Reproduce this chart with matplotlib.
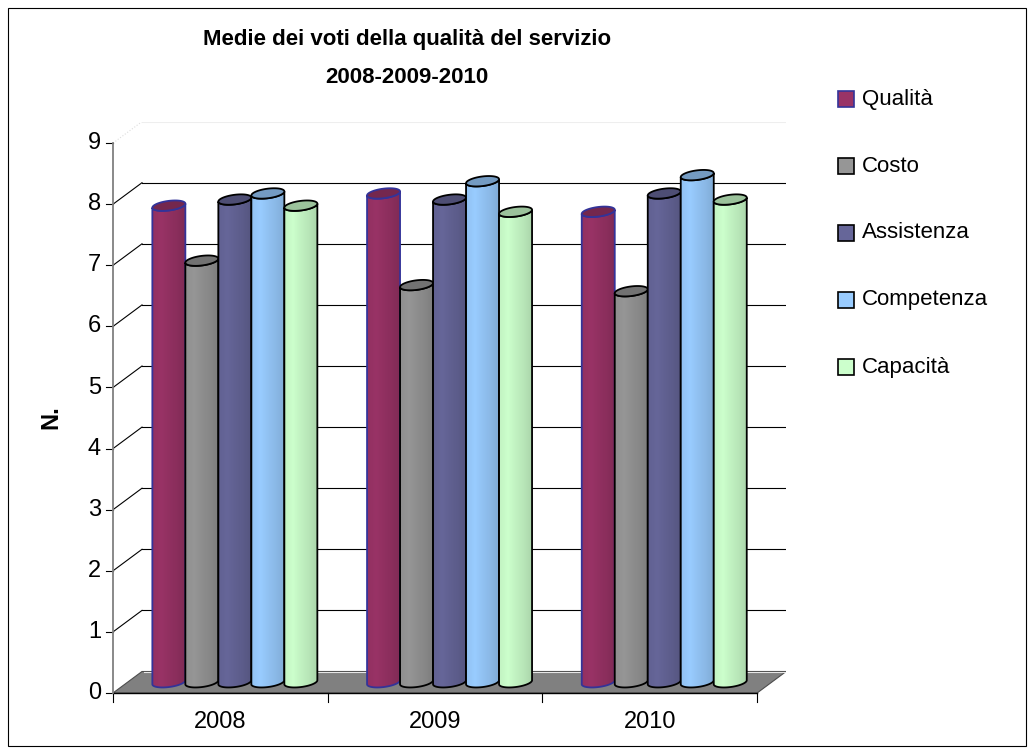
import numpy as np
import matplotlib
matplotlib.use("Agg")
import matplotlib.pyplot as plt
from matplotlib.patches import Polygon, Rectangle
from matplotlib.colors import to_rgb

plt.rcParams['font.family'] = ['Liberation Sans', 'DejaVu Sans']

# ---- data -------------------------------------------------------------
years = ['2008', '2009', '2010']
series_names = ['Qualità', 'Costo', 'Assistenza', 'Competenza', 'Capacità']
qualita = [7.8, 8.0, 7.7]
costo = [6.9, 6.5, 6.4]
assistenza = [7.9, 7.9, 8.0]
competenza = [8.0, 8.2, 8.3]
capacita = [7.8, 7.7, 7.9]
y_ticks = list(range(0, 10))

series_values = [qualita, costo, assistenza, competenza, capacita]
face_colors = ['#993366', '#969696', '#666699', '#99CCFF', '#CCFFCC']
edge_colors = ['#333399', 'black', 'black', 'black', 'black']

# ---- figure geometry (pixels) ----------------------------------------
W, H = 1034, 754
PX_CAT, PX_UNIT = 214.7, 61.1          # pixels per category / per value unit
DX = 29 / PX_CAT                       # depth shift in category units
DY = 21.5 / PX_UNIT                    # depth shift in value units
BW = 33 / PX_CAT                       # cylinder diameter
B_ELL = 4.8 / PX_UNIT                  # half-height of cylinder caps
SHEAR = 2.0 / PX_UNIT                  # cap tilt

fig = plt.figure(figsize=(W / 100, H / 100), dpi=100)
fig.patch.set_facecolor('white')

def fx(px):
    return px / W

def fy(py):
    return 1 - py / H

ax = fig.add_axes([fx(113), fy(693), (3 + DX) * PX_CAT / W, (9 + DY) * PX_UNIT / H])
ax.axis('off')

# ---- walls ------------------------------------------------------------
for k in y_ticks[1:-1]:
    ax.plot([DX, 3 + DX], [k + DY, k + DY], color='black', lw=0.8, zorder=1)
    ax.plot([0, DX], [k, k + DY], color='black', lw=0.8, zorder=1)
top_k = y_ticks[-1]
ax.plot([DX, 3 + DX], [top_k + DY, top_k + DY], color='#eeeeee', lw=0.8, zorder=1)
ax.plot([0, DX], [top_k, top_k + DY], color='#dddddd', lw=0.8, ls=':', zorder=1)

# floor
floor = Polygon([(0, 0), (3, 0), (3 + DX, DY), (DX, DY)], closed=True,
                facecolor='#808080', edgecolor='#4d4d4d', lw=0.8, zorder=2)
ax.add_patch(floor)
ax.plot([DX + 0.01, 3 + DX], [DY, DY], color='#e6e6e6', lw=0.8, zorder=2)

# axes lines and ticks
ax.plot([0, 3], [0, 0], color='black', lw=1.0, zorder=2.5, clip_on=False)
ax.plot([0, 0], [0, 9], color='#808080', lw=1.3, zorder=2.5, clip_on=False)
for k in y_ticks:
    ax.plot([-7.5 / PX_CAT, 0], [k, k], color='black', lw=0.8, clip_on=False)
    ax.text(-12 / PX_CAT, k, str(k), ha='right', va='center', fontsize=17)
for i in range(len(years) + 1):
    ax.plot([i, i], [0, -9 / PX_UNIT], color='black', lw=0.8, clip_on=False)
for i, yr in enumerate(years):
    ax.text(i + 0.5, -29 / PX_UNIT, yr, ha='center', va='center', fontsize=17)

# ---- cylinders --------------------------------------------------------
def shade(color, f):
    r, g, b = to_rgb(color)
    return (min(r * f, 1), min(g * f, 1), min(b * f, 1))

def ellipse_pts(cx, cy, t):
    return np.column_stack([cx + (BW / 2) * np.cos(t),
                            cy + B_ELL * np.sin(t) + SHEAR * np.cos(t)])

u = np.linspace(0, 1, 9)
profile = np.interp(u, [0, 0.25, 0.55, 0.8, 1.0], [0.96, 1.0, 0.94, 0.9, 0.85])

order = 0
for i in range(len(years)):
    for j, vals in enumerate(series_values):
        v = vals[i]
        cx = i + 0.5 + DX / 2 + (j - 2) * BW
        y0 = DY / 2
        yt = v + DY / 2
        z = 3 + order * 0.01
        order += 1

        lower = np.linspace(np.pi, 2 * np.pi, 40)
        bottom_front = ellipse_pts(cx, y0, lower)
        top_front = ellipse_pts(cx, yt, lower[::-1])
        body_xy = np.vstack([bottom_front, top_front])
        body = Polygon(body_xy, closed=True, facecolor='none',
                       edgecolor=edge_colors[j], lw=1.3, zorder=z + 0.002)
        ax.add_patch(body)

        grad = np.array([[shade(face_colors[j], f) for f in profile]])
        im = ax.imshow(grad, extent=[cx - BW / 2, cx + BW / 2, y0 - 0.2, yt + 0.2],
                       aspect='auto', interpolation='bilinear', zorder=z + 0.001)
        im.set_clip_path(body)

        cap = Polygon(ellipse_pts(cx, yt, np.linspace(0, 2 * np.pi, 80)), closed=True,
                      facecolor=shade(face_colors[j], 0.76),
                      edgecolor=edge_colors[j], lw=1.3, zorder=z + 0.003)
        ax.add_patch(cap)

ax.set_xlim(0, 3 + DX)
ax.set_ylim(0, 9 + DY)

# ---- titles -----------------------------------------------------------
fig.text(fx(407), fy(45), 'Medie dei voti della qualità del servizio',
         ha='center', va='baseline', fontsize=16, fontweight='bold')
fig.text(fx(407), fy(83.3), '2008-2009-2010',
         ha='center', va='baseline', fontsize=16, fontweight='bold')
fig.text(fx(51), fy(417), 'N.', rotation=90, ha='center', va='center',
         fontsize=17, fontweight='bold')

# ---- legend -----------------------------------------------------------
for j, name in enumerate(series_names):
    yc = 99 + j * 67
    fig.add_artist(Rectangle((fx(838), fy(yc + 8)), 16 / W, 16 / H,
                             transform=fig.transFigure, facecolor=face_colors[j],
                             edgecolor=edge_colors[j], lw=1.2))
    fig.text(fx(862), fy(yc), name, ha='left', va='center', fontsize=16)

# outer frame
fig.add_artist(Rectangle((fx(7.5), fy(746)), (1026 - 7.5) / W, (746 - 7.5) / H,
                         transform=fig.transFigure, fill=False,
                         edgecolor='black', lw=0.8))

fig.savefig('out.png', dpi=100)
